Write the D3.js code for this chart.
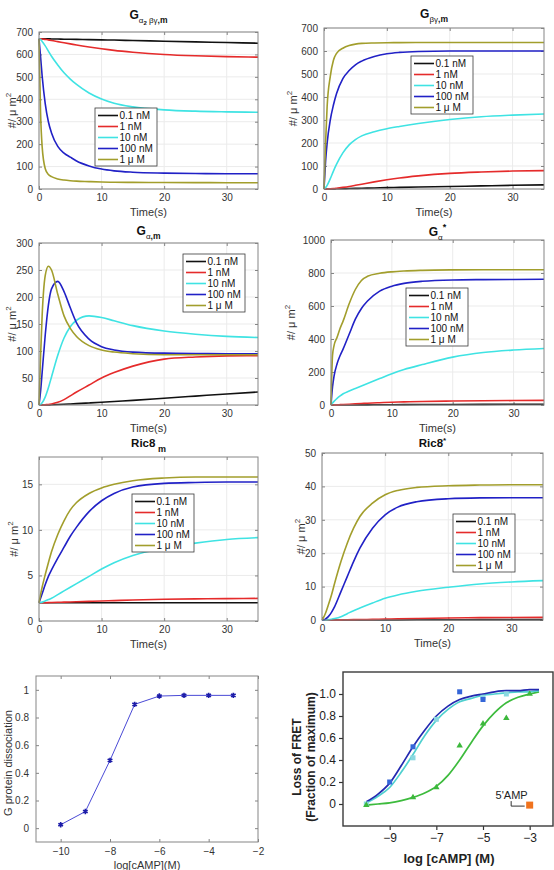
<!DOCTYPE html>
<html>
<head>
<meta charset="utf-8">
<script src="https://cdn.jsdelivr.net/npm/d3@7"></script>
<style>
  body { margin: 0; background: #fff; }
  svg { display: block; font-family: "Liberation Sans", Arial, sans-serif; }
</style>
</head>
<body>
<div id="fig"></div>
<script>
// ---- data ----
let doses = ["0.1 nM", "1 nM", "10 nM", "100 nM", "1 \u03bc M"];
let doseColors = ["#111111", "#e52b2b", "#3fe3e3", "#2121c6", "#a29e2c"];
let times = [0, 0.25, 0.5, 1, 1.5, 2, 3, 4, 5, 6, 8, 10, 12, 15, 20, 25, 30, 35];
let timeTicks = [0, 10, 20, 30];

// G alpha2 beta gamma, m
let gabgM = [
  [670, 670, 670, 670, 669.5, 669, 668.5, 668, 667.5, 667, 666, 665, 664, 662, 659, 656, 653, 650],
  [670, 670, 669, 667, 665, 662, 657, 652, 647, 642, 633, 625, 618, 610, 600, 594, 590, 588],
  [670, 666, 658, 638, 615, 592, 553, 518, 490, 466, 428, 401, 382, 366, 353, 347, 344, 342],
  [670, 590, 505, 380, 300, 250, 190, 160, 142, 125, 103, 89, 81, 75, 71, 69, 68, 68],
  [670, 340, 190, 90, 65, 55, 45, 40, 37, 35, 33, 31, 30, 29.5, 29, 28.5, 28, 28]
];
// G beta gamma, m
let gbgM = [
  [0, 0, 0.1, 0.3, 0.6, 0.9, 1.5, 2, 2.6, 3.2, 4.5, 6, 7, 8.5, 11, 13.5, 16, 18],
  [0, 0.1, 0.3, 1, 2, 3.5, 7, 11, 16, 21, 31, 40, 48, 57, 68, 74, 78, 80],
  [0, 6, 16, 45, 78, 108, 157, 192, 215, 231, 249, 262, 272, 285, 302, 314, 321, 326],
  [0, 120, 200, 300, 365, 415, 480, 515, 540, 556, 576, 588, 594, 598, 600, 600, 600, 600],
  [0, 200, 360, 490, 560, 590, 612, 624, 630, 633, 635, 636, 636.5, 637, 637, 637, 637, 637]
];
// G alpha, m
let gaM = [
  [0, 0, 0, 0.1, 0.2, 0.4, 0.8, 1.3, 1.9, 2.5, 3.8, 5.2, 6.6, 8.6, 12.5, 16.5, 20.5, 24],
  [0, 0, 0.1, 0.5, 1, 2, 5, 10, 17, 24, 37, 50, 60, 72, 85, 89, 91, 91.5],
  [0, 1, 4, 15, 32, 52, 92, 124, 145, 157, 165, 162, 156, 147, 137, 131, 127, 125],
  [0, 25, 60, 130, 185, 215, 229, 210, 180, 152, 122, 108, 102, 98, 96, 95.5, 95, 95],
  [0, 90, 165, 240, 257, 250, 205, 165, 142, 127, 110, 102, 98, 95, 93, 93, 93, 93]
];
// G alpha *
let gaStar = [
  [0, 0, 0, 0, 0.1, 0.2, 0.3, 0.5, 0.7, 0.9, 1.3, 1.7, 2.1, 2.6, 3.4, 4, 4.5, 5],
  [0, 0.2, 0.5, 1, 2, 3, 5, 7, 9, 11, 14, 17, 19, 21, 24, 26, 27, 28],
  [0, 12, 22, 40, 55, 68, 85, 100, 115, 130, 160, 190, 215, 245, 290, 318, 333, 342],
  [0, 110, 175, 250, 300, 340, 430, 520, 585, 630, 690, 720, 737, 750, 758, 760, 761, 762],
  [0, 300, 360, 410, 465, 510, 615, 700, 755, 780, 798, 807, 812, 816, 819, 820, 820, 820]
];
// Ric8 m
let ric8M = [
  [2, 2, 2, 2, 2, 2, 2, 2, 2, 2, 2, 2, 2, 2, 2, 2, 2, 2],
  [2, 2, 2, 2.01, 2.02, 2.03, 2.05, 2.07, 2.09, 2.11, 2.15, 2.2, 2.24, 2.3, 2.38, 2.43, 2.46, 2.48],
  [2, 2.03, 2.07, 2.2, 2.35, 2.5, 2.9, 3.3, 3.7, 4.1, 4.9, 5.7, 6.4, 7.2, 8.0, 8.55, 8.95, 9.15],
  [2, 2.5, 3.0, 4.0, 4.9, 5.6, 6.9, 8.1, 9.3, 10.3, 12.0, 13.2, 14.0, 14.7, 15.1, 15.2, 15.25, 15.25],
  [2, 2.9, 3.7, 5.1, 6.4, 7.6, 9.5, 11.0, 12.2, 13.0, 14.0, 14.6, 15.0, 15.4, 15.7, 15.8, 15.8, 15.8]
];
// Ric8 *
let ric8Star = [
  [0, 0, 0, 0, 0, 0, 0.01, 0.01, 0.02, 0.02, 0.03, 0.04, 0.05, 0.06, 0.08, 0.1, 0.11, 0.12],
  [0, 0, 0, 0.01, 0.01, 0.02, 0.04, 0.07, 0.1, 0.13, 0.2, 0.28, 0.35, 0.45, 0.6, 0.7, 0.76, 0.8],
  [0, 0, 0.02, 0.1, 0.25, 0.45, 1.0, 1.9, 2.8, 3.6, 5.1, 6.5, 7.5, 8.6, 9.8, 10.8, 11.4, 11.8],
  [0, 0.05, 0.25, 1, 2.3, 4, 8.5, 13, 17.5, 21.5, 27.5, 31.5, 33.8, 35.4, 36.3, 36.55, 36.6, 36.6],
  [0, 0.8, 1.8, 4.5, 7.5, 11, 17.5, 23, 27.5, 31, 35, 37.5, 38.8, 39.7, 40.2, 40.4, 40.5, 40.5]
];

// simulated dose response
let logCamp = [-10, -9, -8, -7, -6, -5, -4, -3];
let dissociation = [0.025, 0.12, 0.49, 0.895, 0.955, 0.96, 0.96, 0.96];

// FRET experiment
let fretBlueX = [-9, -8, -6, -5];
let fretBlueY = [0.2, 0.52, 1.02, 0.95];
let fretCyanX = [-10, -8, -7, -5, -4];
let fretCyanY = [0.0, 0.42, 0.77, 0.97, 1.0];
let fretGreenX = [-10, -8, -7, -6, -5, -4, -3];
let fretGreenY = [-0.01, 0.06, 0.15, 0.53, 0.73, 0.78, 1.0];
let fitX = [-10, -9.5, -9, -8.5, -8, -7.5, -7, -6.5, -6, -5.5, -5, -4.5, -4, -3.5, -3, -2.6];
let fitBlue = [0.02, 0.09, 0.19, 0.35, 0.52, 0.67, 0.8, 0.89, 0.95, 0.98, 1.0, 1.02, 1.03, 1.03, 1.04, 1.04];
let fitCyan = [0.01, 0.07, 0.15, 0.29, 0.45, 0.62, 0.76, 0.86, 0.93, 0.96, 0.99, 1.0, 1.01, 1.02, 1.02, 1.03];
let fitGreen = [-0.01, 0, 0.01, 0.03, 0.06, 0.1, 0.16, 0.26, 0.4, 0.56, 0.71, 0.83, 0.92, 0.97, 1.0, 1.02];
let ampX = [-3];
let ampY = [-0.01];

let width = 554;
let height = 870;

let svg = d3.select("#fig")
  .append("svg")
    .attr("width", width)
    .attr("height", height);

let axisGray = "#858585";
let labelGray = "#333333";

function addTitle(cx, y, parts) {
  let t = svg.append("text")
    .attr("x", cx)
    .attr("y", y)
    .attr("text-anchor", "middle")
    .attr("fill", "#111");
  parts.forEach(p => {
    t.append("tspan")
      .attr("dy", p.dy || 0)
      .style("font-size", p.s + "px")
      .style("font-weight", p.w || "bold")
      .text(p.t);
  });
}

function drawTimePanel(p) {
  let x = d3.scaleLinear().domain([0, 35]).range([p.left, p.right]);
  let y = d3.scaleLinear().domain(p.yDomain).range([p.bottom, p.top]);
  let g = svg.append("g");

  // grid
  g.selectAll(".gx").data(timeTicks).enter().append("line")
    .attr("x1", d => x(d)).attr("x2", d => x(d))
    .attr("y1", p.top).attr("y2", p.bottom)
    .attr("stroke", "#ebebeb");
  g.selectAll(".gy").data(p.yTicks).enter().append("line")
    .attr("x1", p.left).attr("x2", p.right)
    .attr("y1", d => y(d)).attr("y2", d => y(d))
    .attr("stroke", "#ebebeb");

  // axes, ticks pointing inwards like matlab
  let ax = g.append("g").attr("transform", "translate(0," + p.bottom + ")")
    .call(d3.axisBottom(x).tickValues(timeTicks).tickSize(-3).tickPadding(5));
  let axTop = g.append("g").attr("transform", "translate(0," + p.top + ")")
    .call(d3.axisTop(x).tickValues(timeTicks).tickSize(-3).tickFormat(""));
  let ay = g.append("g").attr("transform", "translate(" + p.left + ",0)")
    .call(d3.axisLeft(y).tickValues(p.yTicks).tickSize(-3).tickPadding(6).tickFormat(d3.format("")));
  let ayR = g.append("g").attr("transform", "translate(" + p.right + ",0)")
    .call(d3.axisRight(y).tickValues(p.yTicks).tickSize(-3).tickFormat(""));
  [ax, axTop, ay, ayR].forEach(a => {
    a.select(".domain").remove();
    a.selectAll("line").attr("stroke", axisGray);
    a.selectAll("text").attr("fill", labelGray).style("font-size", "10px");
  });

  // curves
  let line = d3.line()
    .x((d, j) => x(times[j]))
    .y(d => y(d))
    .curve(d3.curveMonotoneX);
  p.values.forEach((vals, i) => {
    g.append("path")
      .datum(vals)
      .attr("d", line)
      .attr("fill", "none")
      .attr("stroke", doseColors[i])
      .attr("stroke-width", 1.6);
  });

  // box
  g.append("rect")
    .attr("x", p.left).attr("y", p.top)
    .attr("width", p.right - p.left).attr("height", p.bottom - p.top)
    .attr("fill", "none").attr("stroke", axisGray);

  // legend
  let lg = g.append("g").attr("transform", "translate(" + p.legend[0] + "," + p.legend[1] + ")");
  lg.append("rect")
    .attr("width", 62).attr("height", 58)
    .attr("fill", "#fff").attr("stroke", "#3a3a3a").attr("stroke-width", 0.8);
  doses.forEach((d, i) => {
    let yy = 7.5 + i * 11;
    lg.append("line")
      .attr("x1", 3).attr("x2", 23).attr("y1", yy).attr("y2", yy)
      .attr("stroke", doseColors[i]).attr("stroke-width", 1.6);
    lg.append("text")
      .attr("x", 24.5).attr("y", yy).attr("dy", "0.35em")
      .style("font-size", "10px").attr("fill", "#111")
      .text(d);
  });

  // labels
  let cx = (p.left + p.right) / 2;
  addTitle(cx, p.titleY, p.title);
  svg.append("text")
    .attr("x", cx).attr("y", p.bottom + 27)
    .attr("text-anchor", "middle")
    .style("font-size", "11px").attr("fill", labelGray)
    .text("Time(s)");
  let yl = svg.append("text")
    .attr("transform", "translate(" + p.ylabelX + "," + ((p.top + p.bottom) / 2) + ") rotate(-90)")
    .attr("text-anchor", "middle")
    .attr("dy", "0.35em")
    .style("font-size", "11px").attr("fill", labelGray);
  yl.append("tspan").text("#/ \u03bc m");
  yl.append("tspan").attr("dy", -5).style("font-size", "8px").text("2");
}

drawTimePanel({
  left: 39, right: 258, top: 32, bottom: 189,
  yDomain: [0, 700], yTicks: d3.range(0, 701, 100),
  values: gabgM, legend: [95, 108], ylabelX: 12, titleY: 19,
  title: [{t: "G", s: 12}, {t: "\u03b1", s: 8, dy: 4, w: "normal"}, {t: "2", s: 6, dy: 2},
          {t: " \u03b2\u03b3", s: 8, dy: -2, w: "normal"}, {t: ",m", s: 8.5}]
});
drawTimePanel({
  left: 324, right: 544, top: 28, bottom: 189,
  yDomain: [0, 700], yTicks: d3.range(0, 701, 100),
  values: gbgM, legend: [411, 56], ylabelX: 293, titleY: 18,
  title: [{t: "G", s: 12}, {t: "\u03b2\u03b3", s: 8, dy: 4, w: "normal"}, {t: ",m", s: 8.5}]
});
drawTimePanel({
  left: 39, right: 258, top: 243, bottom: 405,
  yDomain: [0, 300], yTicks: d3.range(0, 301, 50),
  values: gaM, legend: [183, 254], ylabelX: 12, titleY: 235,
  title: [{t: "G", s: 12}, {t: "\u03b1", s: 8, dy: 4, w: "normal"}, {t: ",m", s: 8.5}]
});
drawTimePanel({
  left: 331, right: 544, top: 240, bottom: 405,
  yDomain: [0, 1000], yTicks: d3.range(0, 1001, 200),
  values: gaStar, legend: [406, 288], ylabelX: 291, titleY: 236,
  title: [{t: "G", s: 12}, {t: "\u03b1", s: 8, dy: 4, w: "normal"}, {t: "*", s: 9, dy: -10}]
});
drawTimePanel({
  left: 39, right: 258, top: 457, bottom: 621,
  yDomain: [0, 18], yTicks: [0, 5, 10, 15],
  values: ric8M, legend: [132, 494], ylabelX: 14, titleY: 447,
  title: [{t: "Ric8", s: 11.5}, {t: " m", s: 9, dy: 5}]
});
drawTimePanel({
  left: 322, right: 543, top: 453, bottom: 620,
  yDomain: [0, 50], yTicks: d3.range(0, 51, 10),
  values: ric8Star, legend: [453, 514], ylabelX: 301, titleY: 447,
  title: [{t: "Ric8", s: 11.5}, {t: "*", s: 8, dy: -4}]
});

// ---- bottom left: G protein dissociation ----
function drawDissociation() {
  let left = 36, right = 258, top = 676, bottom = 842;
  let x = d3.scaleLinear().domain([-11, -2]).range([left, right]);
  let y = d3.scaleLinear().domain([-0.1, 1.1]).range([bottom, top]);
  let g = svg.append("g");
  let xt = [-10, -8, -6, -4, -2];
  let yt = [0, 0.2, 0.4, 0.6, 0.8, 1];

  let ax = g.append("g").attr("transform", "translate(0," + bottom + ")")
    .call(d3.axisBottom(x).tickValues(xt).tickSize(-3).tickPadding(6));
  let axT = g.append("g").attr("transform", "translate(0," + top + ")")
    .call(d3.axisTop(x).tickValues(xt).tickSize(-3).tickFormat(""));
  let ay = g.append("g").attr("transform", "translate(" + left + ",0)")
    .call(d3.axisLeft(y).tickValues(yt).tickSize(-3).tickPadding(7).tickFormat(d3.format("")));
  let ayR = g.append("g").attr("transform", "translate(" + right + ",0)")
    .call(d3.axisRight(y).tickValues(yt).tickSize(-3).tickFormat(""));
  [ax, axT, ay, ayR].forEach(a => {
    a.select(".domain").remove();
    a.selectAll("line").attr("stroke", axisGray);
    a.selectAll("text").attr("fill", labelGray).style("font-size", "10px");
  });
  g.append("rect")
    .attr("x", left).attr("y", top)
    .attr("width", right - left).attr("height", bottom - top)
    .attr("fill", "none").attr("stroke", axisGray);

  g.append("path")
    .datum(logCamp)
    .attr("d", d3.line().x(d => x(d)).y((d, i) => y(dissociation[i])))
    .attr("fill", "none").attr("stroke", "#4a4ad6").attr("stroke-width", 1);
  let sym = d3.symbol().type(d3.symbolAsterisk).size(20);
  g.selectAll(".pt").data(logCamp).enter().append("path")
    .attr("transform", (d, i) => "translate(" + x(d) + "," + y(dissociation[i]) + ")")
    .attr("d", sym)
    .attr("fill", "none").attr("stroke", "#1c1ca8").attr("stroke-width", 1.6);

  svg.append("text")
    .attr("x", (left + right) / 2).attr("y", 869)
    .attr("text-anchor", "middle")
    .style("font-size", "11px").attr("fill", labelGray)
    .text("log[cAMP](M)");
  svg.append("text")
    .attr("transform", "translate(8," + ((top + bottom) / 2 + 4) + ") rotate(-90)")
    .attr("text-anchor", "middle").attr("dy", "0.35em")
    .style("font-size", "11px").attr("fill", labelGray)
    .text("G protein dissociation");
}
drawDissociation();

// ---- bottom right: loss of FRET ----
function drawFret() {
  let left = 343, right = 553, top = 672, bottom = 826;
  let x = d3.scaleLinear().domain([-11, -2]).range([left, right]);
  let y = d3.scaleLinear().domain([-0.2, 1.2]).range([bottom, top]);
  let g = svg.append("g");

  let ax = g.append("g").attr("transform", "translate(0," + bottom + ")")
    .call(d3.axisBottom(x).tickValues([-9, -7, -5, -3]).tickSize(4).tickPadding(3));
  let ay = g.append("g").attr("transform", "translate(" + left + ",0)")
    .call(d3.axisLeft(y).tickValues([0, 0.2, 0.4, 0.6, 0.8, 1.0]).tickSize(4).tickPadding(3)
      .tickFormat(d => d === 0 ? "0" : d3.format(".1f")(d)));
  [ax, ay].forEach(a => {
    a.select(".domain").remove();
    a.selectAll("line").attr("stroke", "#333").attr("stroke-width", 1.2);
    a.selectAll("text").attr("fill", "#222").style("font-size", "12px");
  });
  g.append("rect")
    .attr("x", left).attr("y", top)
    .attr("width", right - left).attr("height", bottom - top)
    .attr("fill", "none").attr("stroke", "#3a3a3a").attr("stroke-width", 1.4);

  let fit = ys => d3.line().x(d => x(d)).y((d, i) => y(ys[i])).curve(d3.curveMonotoneX);
  g.append("path").datum(fitX).attr("d", fit(fitGreen))
    .attr("fill", "none").attr("stroke", "#3dbb3d").attr("stroke-width", 1.7);
  g.append("path").datum(fitX).attr("d", fit(fitCyan))
    .attr("fill", "none").attr("stroke", "#4fd0cf").attr("stroke-width", 1.7);
  g.append("path").datum(fitX).attr("d", fit(fitBlue))
    .attr("fill", "none").attr("stroke", "#2329b0").attr("stroke-width", 1.7);

  g.selectAll(".cy").data(fretCyanX).enter().append("rect")
    .attr("x", d => x(d) - 2.5).attr("y", (d, i) => y(fretCyanY[i]) - 2.5)
    .attr("width", 5).attr("height", 5)
    .attr("fill", "#8ad8e0");
  g.selectAll(".bl").data(fretBlueX).enter().append("rect")
    .attr("x", d => x(d) - 2.5).attr("y", (d, i) => y(fretBlueY[i]) - 2.5)
    .attr("width", 5).attr("height", 5)
    .attr("fill", "#3566d8");
  let tri = d3.symbol().type(d3.symbolTriangle).size(18);
  g.selectAll(".gr").data(fretGreenX).enter().append("path")
    .attr("transform", (d, i) => "translate(" + x(d) + "," + y(fretGreenY[i]) + ")")
    .attr("d", tri)
    .attr("fill", "#3cb83c");
  g.selectAll(".amp").data(ampX).enter().append("rect")
    .attr("x", d => x(d) - 3.5).attr("y", (d, i) => y(ampY[i]) - 3.5)
    .attr("width", 7).attr("height", 7)
    .attr("fill", "#f0731e");

  // 5'AMP label with its little bracket
  let bx = x(ampX[0]);
  let by = y(ampY[0]);
  g.append("text")
    .attr("x", bx - 2).attr("y", by - 6)
    .attr("text-anchor", "end")
    .style("font-size", "11px").attr("fill", "#222")
    .text("5'AMP");
  g.append("path")
    .attr("d", "M" + (bx - 18.5) + "," + (by - 4) + "V" + (by + 1) + "H" + (bx - 5))
    .attr("fill", "none").attr("stroke", "#333").attr("stroke-width", 1);

  svg.append("text")
    .attr("x", (left + right) / 2 + 1).attr("y", 863)
    .attr("text-anchor", "middle")
    .style("font-size", "13px").style("font-weight", "bold").attr("fill", "#222")
    .text("log [cAMP] (M)");
  let yl = svg.append("text")
    .attr("transform", "translate(297," + 757 + ") rotate(-90)")
    .attr("text-anchor", "middle")
    .style("font-size", "12px").style("font-weight", "bold").attr("fill", "#222");
  yl.append("tspan").attr("x", 0).attr("dy", "0.35em").text("Loss of FRET");
  yl.append("tspan").attr("x", 0).attr("dy", "1.15em").text("(Fraction of maximum)");
}
drawFret();
</script>
</body>
</html>
